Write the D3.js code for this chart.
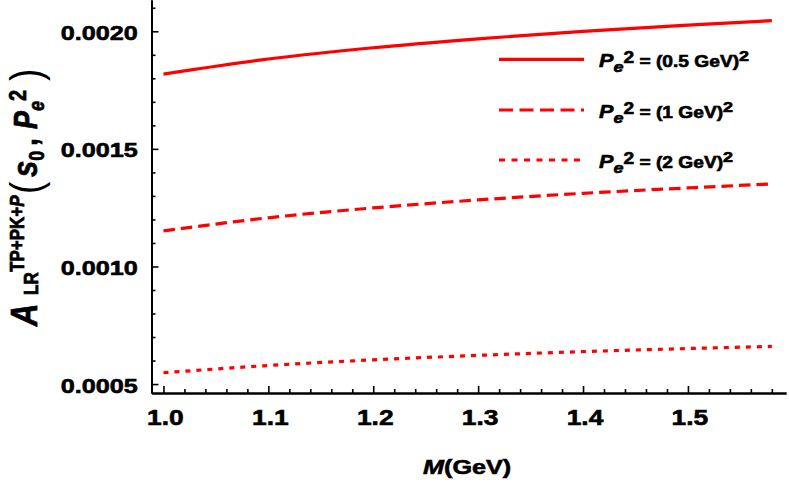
<!DOCTYPE html>
<html>
<head>
<meta charset="utf-8">
<script src="https://cdn.jsdelivr.net/npm/d3@7"></script>
<style>
body { margin: 0; background: #fff; }
text { font-family: "Liberation Sans", Arial, sans-serif; font-weight: bold; fill: #000; stroke: #000; stroke-width: 0.6px; }
</style>
</head>
<body>
<div id="chart"></div>
<script>
var w = 789;
var h = 493;

// M in GeV
var massM = [1.0, 1.1, 1.2, 1.3, 1.4, 1.5, 1.58];
// A_LR for Pe^2 = (0.5 GeV)^2, (1 GeV)^2, (2 GeV)^2
var alrHalf = [0.001818, 0.001882, 0.001930, 0.001968, 0.002000, 0.002026, 0.002045];
var alrOne  = [0.001151, 0.001207, 0.001249, 0.001283, 0.001311, 0.001334, 0.001351];
var alrTwo  = [0.000548, 0.000579, 0.000603, 0.000622, 0.000638, 0.000651, 0.000660];
var legendScales = ["0.5 GeV", "1 GeV", "2 GeV"];

var xTicks = [1.0, 1.1, 1.2, 1.3, 1.4, 1.5];
var yTicks = [0.0005, 0.0010, 0.0015, 0.0020];

// text in the picture is a bit wider than high
var k = 1.2;

var xScale = d3.scaleLinear().domain([0.9886, 1.5935]).range([151.5, 786]);
var yScale = d3.scaleLinear().domain([0.000462, 0.002133]).range([393, 0]);

var svg = d3.select("#chart").append("svg")
    .attr("width", w)
    .attr("height", h)
    .style("background", "#fff");

var xMinor = d3.range(50, 80).filter(function(i) { return i % 5 != 0; }).map(function(i) { return i / 50; });
var yMinor = d3.range(5, 22).filter(function(i) { return i % 5 != 0; }).map(function(i) { return i / 10000; });

//minor ticks
svg.append("g")
    .attr("class", "x minor")
    .attr("transform", "translate(0," + 393 + ")")
    .call(d3.axisBottom(xScale).tickValues(xMinor).tickSize(-4).tickSizeOuter(0).tickFormat(""));
svg.append("g")
    .attr("class", "y minor")
    .attr("transform", "translate(151.5,0)")
    .call(d3.axisLeft(yScale).tickValues(yMinor).tickSize(-4).tickSizeOuter(0).tickFormat(""));

//major axes
var xAxis = svg.append("g")
    .attr("class", "x axis")
    .attr("transform", "translate(0," + 393 + ")")
    .call(d3.axisBottom(xScale).tickValues(xTicks).tickSize(-7).tickSizeOuter(0).tickFormat(d3.format(".1f")));
var yAxis = svg.append("g")
    .attr("class", "y axis")
    .attr("transform", "translate(151.5,0)")
    .call(d3.axisLeft(yScale).tickValues(yTicks).tickSize(-7).tickSizeOuter(0).tickFormat(d3.format(".4f")));

svg.selectAll(".domain").attr("stroke", "#000").attr("stroke-width", 2);
svg.selectAll(".tick line").attr("stroke", "#000").attr("stroke-width", 1.6);

xAxis.selectAll("text")
    .attr("x", 1.5 / k)
    .attr("y", 16)
    .attr("dy", "0.71em")
    .attr("transform", "scale(" + k + ",1)")
    .style("font-size", "22px")
    .style("font-family", "'Liberation Sans', Arial, sans-serif")
    .style("font-weight", "bold");

yAxis.selectAll("text")
    .attr("x", -11.5)
    .attr("dy", "0.38em")
    .attr("transform", "scale(" + k + ",1)")
    .style("font-size", "21px")
    .style("font-family", "'Liberation Sans', Arial, sans-serif")
    .style("font-weight", "bold");

//lines
var series = [
    { vals: alrHalf, dash: null },
    { vals: alrOne, dash: "11.5,6" },
    { vals: alrTwo, dash: "5,6" }
];
var legendDash = [null, "14,6.5", "6,6.5"];

var line = d3.line()
    .x(function(d) { return xScale(d[0]); })
    .y(function(d) { return yScale(d[1]); })
    .curve(d3.curveMonotoneX);

series.forEach(function(s) {
    svg.append("path")
        .datum(d3.zip(massM, s.vals))
        .attr("fill", "none")
        .attr("stroke", "#ff0000")
        .attr("stroke-width", 3.2)
        .attr("stroke-dasharray", s.dash)
        .attr("d", line);
});

//legend
var legendY = [59.3, 110, 160];
legendScales.forEach(function(lbl, i) {
    svg.append("line")
        .attr("x1", 499).attr("x2", 584)
        .attr("y1", legendY[i]).attr("y2", legendY[i])
        .attr("stroke", "#ff0000")
        .attr("stroke-width", 3.2)
        .attr("stroke-dasharray", legendDash[i]);

    var t = svg.append("text")
        .attr("transform", "translate(599," + (legendY[i] + 8) + ") scale(" + k + ",1)");
    t.append("tspan").style("font-style", "italic").style("font-size", "18px").text("P");
    t.append("tspan").style("font-style", "italic").style("font-size", "15px").attr("dy", 5).text("e");
    t.append("tspan").style("font-size", "16px").attr("dy", -9).text("2");
    t.append("tspan").style("font-size", "16px").attr("dy", 4).text(" = (" + lbl + ")");
    t.append("tspan").style("font-size", "15px").attr("dy", -6).text("2");
});

//x title
var xt = svg.append("text")
    .attr("transform", "translate(423,474) scale(" + k + ",1)");
xt.append("tspan").style("font-style", "italic").style("font-size", "21px").text("M");
xt.append("tspan").style("font-size", "21px").text("(GeV)");

//y title
var yt = svg.append("text")
    .attr("transform", "translate(37,0) scale(" + k + ",1) rotate(-90)");
yt.append("tspan").attr("x", -326).attr("y", 0).style("font-style", "italic").style("font-size", "31px").text("A");
yt.append("tspan").attr("x", -295).attr("y", 1).style("font-size", "17px").text("LR");
yt.append("tspan").attr("x", -272).attr("y", -11).style("font-size", "17px").text("TP+PK+");
yt.append("tspan").style("font-style", "italic").style("font-size", "17px").text("P");
yt.append("tspan").attr("x", -194).attr("y", 3).style("font-weight", "normal").style("stroke-width", "0px").style("font-size", "37px").text("(");
yt.append("tspan").attr("x", -177).attr("y", 0).style("font-style", "italic").style("font-size", "29px").text("s");
yt.append("tspan").attr("y", 6).style("font-size", "18px").text("0");
yt.append("tspan").attr("x", -146).attr("y", 0).style("font-size", "28px").text(",");
yt.append("tspan").attr("x", -129).attr("y", 0).style("font-style", "italic").style("font-size", "27px").text("P");
yt.append("tspan").attr("y", 6).style("font-style", "italic").style("font-size", "18px").text("e");
yt.append("tspan").attr("y", -9).style("font-size", "20px").text("2");
yt.append("tspan").attr("x", -81).attr("y", 3).style("font-weight", "normal").style("stroke-width", "0px").style("font-size", "37px").text(")");
</script>
</body>
</html>
